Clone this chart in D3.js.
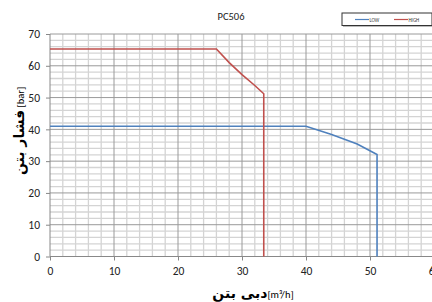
<!DOCTYPE html>
<html lang="en">
<head>
    <meta charset="utf-8">
    <title>PC506</title>
    <script src="https://d3js.org/d3.v7.min.js"></script>
    <style>
        body { margin: 0; background: #fff; }
        svg { display: block; font-family: Carlito, "Liberation Sans", Arial, sans-serif; }
    </style>
</head>
<body>
<div class="chart"></div>
<script>
    // data (flow m3/h, pressure bar)
    const lowFlow     = [0, 40, 44, 48, 51.1, 51.1];
    const lowPressure = [41, 41, 38.4, 35.4, 32.1, 0];
    const highFlow     = [0, 26, 28, 30, 32, 33.4, 33.4];
    const highPressure = [65.3, 65.3, 61, 57.2, 53.8, 51.2, 0];
    const xTicks = [0, 10, 20, 30, 40, 50, 60];
    const yTicks = [0, 10, 20, 30, 40, 50, 60, 70];
    const seriesNames = ["LOW", "HIGH"];
    const colors = ["#4f81bd", "#c0504d"];

    const W = 432, H = 302;
    const x = d3.scaleLinear().domain([0, 60]).range([50, 434]);
    const y = d3.scaleLinear().domain([0, 70]).range([256.5, 34]);

    const svg = d3.select(".chart").append("svg")
        .attr("width", W).attr("height", H);

    // minor grid
    const minorX = d3.range(0, 61, 2).filter(v => v % 10 !== 0);
    const minorY = d3.range(0, 71, 2).filter(v => v % 10 !== 0);
    svg.append("g").selectAll("line").data(minorX).join("line")
        .attr("x1", d => x(d)).attr("x2", d => x(d))
        .attr("y1", y(70)).attr("y2", y(0))
        .attr("stroke", "#d4d4d4").attr("stroke-width", 1.3);
    svg.append("g").selectAll("line").data(minorY).join("line")
        .attr("x1", x(0)).attr("x2", x(60))
        .attr("y1", d => y(d)).attr("y2", d => y(d))
        .attr("stroke", "#d4d4d4").attr("stroke-width", 1.3);

    // major grid
    svg.append("g").selectAll("line").data(xTicks.slice(1)).join("line")
        .attr("x1", d => x(d)).attr("x2", d => x(d))
        .attr("y1", y(70)).attr("y2", y(0))
        .attr("stroke", "#9a9a9a");
    svg.append("g").selectAll("line").data(yTicks.slice(1)).join("line")
        .attr("x1", x(0)).attr("x2", x(60))
        .attr("y1", d => y(d)).attr("y2", d => y(d))
        .attr("stroke", "#9a9a9a");

    // axes
    const xAxis = d3.axisBottom(x).tickValues(xTicks).tickSize(4).tickPadding(6);
    const yAxis = d3.axisLeft(y).tickValues(yTicks).tickSize(4).tickPadding(6);
    const gx = svg.append("g").attr("transform", `translate(0,${y(0)})`).call(xAxis);
    const gy = svg.append("g").attr("transform", `translate(${x(0)},0)`).call(yAxis);
    [gx, gy].forEach(g => {
        g.select(".domain").remove();
        g.selectAll(".tick line").attr("stroke", "#888");
        g.selectAll(".tick text").attr("font-size", 11.5).attr("fill", "#222")
            .attr("font-family", "Carlito, 'Liberation Sans', Arial, sans-serif");
    });
    svg.append("line").attr("x1", x(0)).attr("x2", x(60)).attr("y1", y(0)).attr("y2", y(0)).attr("stroke", "#888");
    svg.append("line").attr("x1", x(0)).attr("x2", x(0)).attr("y1", y(70)).attr("y2", y(0)).attr("stroke", "#888");

    // series lines
    const line = d3.line().x(d => x(d[0])).y(d => y(d[1]));
    const series = [d3.zip(lowFlow, lowPressure), d3.zip(highFlow, highPressure)];
    svg.append("g").selectAll("path").data(series).join("path")
        .attr("d", line)
        .attr("fill", "none")
        .attr("stroke", (d, i) => colors[i])
        .attr("stroke-width", 1.6);

    // title
    svg.append("text").attr("x", 231).attr("y", 20)
        .attr("text-anchor", "middle").attr("font-size", 10.5).attr("fill", "#222")
        .text("PC506");

    // legend
    const lg = svg.append("g");
    lg.append("rect").attr("x", 343).attr("y", 14).attr("width", 90).attr("height", 13)
        .attr("fill", "#bbb");
    lg.append("rect").attr("x", 342).attr("y", 13).attr("width", 90).attr("height", 12.5)
        .attr("fill", "#fff").attr("stroke", "#333").attr("stroke-width", 1);
    const items = lg.selectAll("g").data(seriesNames).join("g")
        .attr("transform", (d, i) => `translate(${355 + i * 39},19.5)`);
    items.append("line").attr("x1", 0).attr("x2", 14)
        .attr("stroke", (d, i) => colors[i]).attr("stroke-width", 1.2);
    items.append("text").attr("x", 14.5).attr("y", 2)
        .attr("font-size", 5).attr("fill", "#333").text(d => d);

    // axis titles
    const xt = svg.append("text").attr("x", 253).attr("y", 298).attr("text-anchor", "middle");
    xt.append("tspan").attr("font-family", "'DejaVu Sans'").attr("font-weight", "bold")
        .attr("font-size", 14).text("دبی بتن");
    xt.append("tspan").attr("font-size", 10.5).text("[m³/h]");

    const yt = svg.append("text").attr("transform", "translate(24,131) rotate(-90)")
        .attr("text-anchor", "middle");
    yt.append("tspan").attr("font-family", "'DejaVu Sans'").attr("font-weight", "bold")
        .attr("font-size", 14).text("فشار بتن");
    yt.append("tspan").attr("font-size", 10.5).text(" [bar]");
</script>
</body>
</html>
